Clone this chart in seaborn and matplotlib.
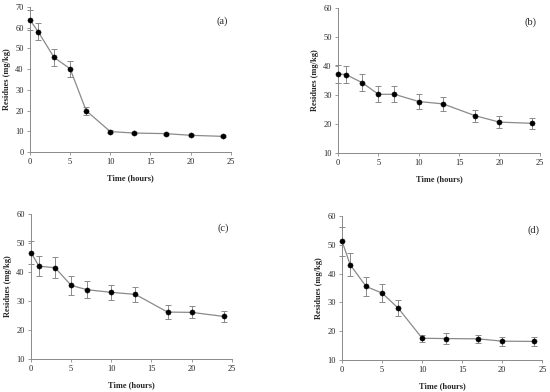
import seaborn as sns
import matplotlib.pyplot as plt
import pandas as pd

sns.set_theme(style="ticks")
plt.rcParams['font.family'] = ['Liberation Serif', 'DejaVu Serif']

hours = [0, 1, 3, 5, 7, 10, 13, 17, 20, 24]

# residues (mg/kg) and standard deviations for each panel
res_a = [63.8, 58.2, 45.7, 40.2, 20.0, 9.9, 9.2, 8.9, 8.1, 7.6]
err_a = [5.0, 4.0, 4.0, 4.0, 2.0, 0.6, 0.5, 0.5, 0.5, 0.5]
res_b = [37.2, 37.0, 34.2, 30.2, 30.2, 27.7, 26.9, 22.8, 20.6, 20.2]
err_b = [3.0, 3.0, 2.9, 2.8, 2.8, 2.7, 2.5, 2.1, 2.0, 1.8]
res_c = [46.7, 42.0, 41.5, 35.4, 33.9, 33.0, 32.3, 26.2, 26.1, 24.7]
err_c = [4.0, 3.4, 3.7, 3.2, 2.9, 2.5, 2.7, 2.3, 2.1, 1.8]
res_d = [51.2, 43.1, 35.5, 33.2, 28.0, 17.5, 17.4, 17.3, 16.5, 16.4]
err_d = [5.0, 3.9, 3.2, 3.0, 2.7, 1.3, 1.8, 1.5, 1.6, 1.7]

panels = [
    ("(a)", res_a, err_a, (0, 70), [0.0545, 0.612, 0.365, 0.370]),
    ("(b)", res_b, err_b, (10, 60), [0.6145, 0.610, 0.367, 0.370]),
    ("(c)", res_c, err_c, (10, 60), [0.0564, 0.084, 0.365, 0.370]),
    ("(d)", res_d, err_d, (10, 60), [0.622, 0.082, 0.364, 0.367]),
]

fig = plt.figure(figsize=(5.5, 3.92), dpi=100)

for label, res, err, ylim, pos in panels:
    ax = fig.add_axes(pos)
    df = pd.DataFrame({"time": hours, "res": res})
    ax.errorbar(hours, res, yerr=err, fmt='none', ecolor='#8a8a8a',
                elinewidth=0.7, capsize=2, capthick=0.7, zorder=2,
                clip_on=False)
    sns.lineplot(data=df, x="time", y="res", ax=ax, color='#8a8a8a',
                 linewidth=0.9, zorder=3)
    sns.scatterplot(data=df, x="time", y="res", ax=ax, color='black',
                    s=14, edgecolor='black', zorder=4, clip_on=False)
    ax.set_xlim(0, 25)
    ax.set_ylim(*ylim)
    ax.set_xticks(range(0, 26, 5))
    ax.set_yticks(range(ylim[0], ylim[1] + 1, 10))
    ax.set_xlabel("Time (hours)", fontsize=6, fontweight='bold', labelpad=6)
    ax.set_ylabel("Residues (mg/kg)", fontsize=6, fontweight='bold', labelpad=3)
    ax.tick_params(labelsize=6, length=2.5, width=0.6, color='#8a8a8a', pad=2)
    for sp in ['left', 'bottom']:
        ax.spines[sp].set_color('#8a8a8a')
        ax.spines[sp].set_linewidth(0.7)
    sns.despine(ax=ax)
    ax.text(0.985, 0.9, label, transform=ax.transAxes, ha='right', va='center',
            fontsize=7.5)

fig.savefig("out.png", dpi=100)
